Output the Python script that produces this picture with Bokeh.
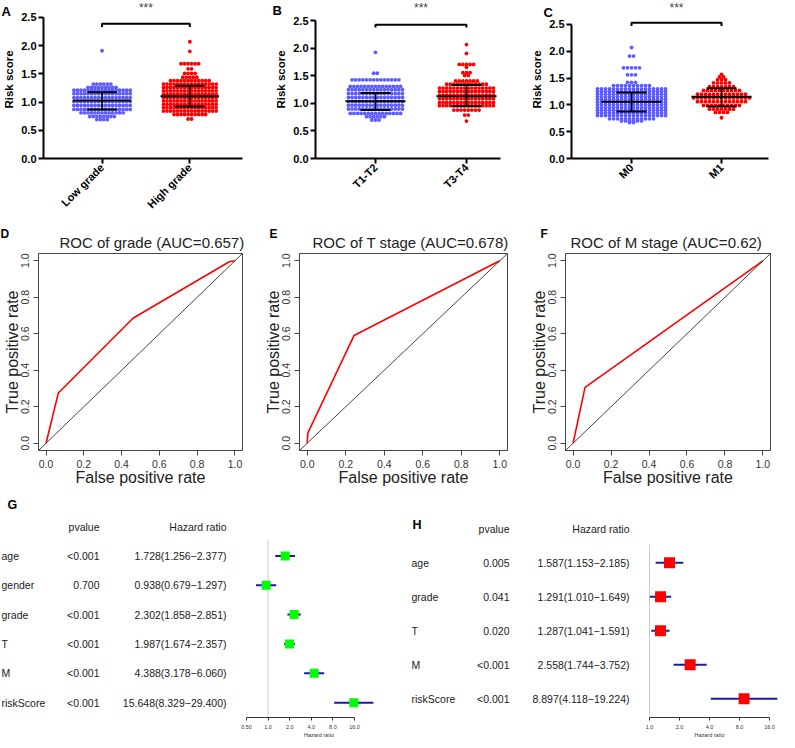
import math
from bokeh.plotting import figure
from bokeh.models import Range1d, FixedTicker, Label, PrintfTickFormatter, Slope
from bokeh.layouts import row, column
from bokeh.embed import file_html
from bokeh.resources import INLINE
from bokeh.core.properties import value

FONT = "Liberation Sans"
BLUE = "#5c5cff"
RED = "#ff0000"

# ---------------- Panels A-C: scatter rows (risk score level, number of dots) ----------------
A_cats = ["Low grade", "High grade"]
A_low_vals = [0.69, 0.745, 0.81, 0.87, 0.94, 1.01, 1.08, 1.15, 1.21, 1.26, 1.32, 1.91]
A_low_cnt = [4, 8, 13, 17, 17, 17, 17, 17, 17, 9, 6, 1]
A_high_vals = [0.70, 0.78, 0.84, 0.90, 0.96, 1.02, 1.08, 1.14, 1.20, 1.26, 1.32, 1.38, 1.44, 1.51, 1.59, 1.68, 1.90, 2.07]
A_high_cnt = [2, 10, 16, 16, 16, 16, 16, 16, 16, 16, 16, 12, 5, 4, 2, 6, 1, 1]
A_mid = [1.03, 1.105]
A_hi = [1.175, 1.29]
A_lo = [0.87, 0.92]

B_cats = ["T1-T2", "T3-T4"]
B_low_vals = [0.70, 0.76, 0.82, 0.90, 0.97, 1.04, 1.11, 1.18, 1.25, 1.31, 1.43, 1.55, 1.93]
B_low_cnt = [3, 6, 15, 16, 16, 16, 16, 16, 16, 15, 14, 2, 1]
B_high_vals = [0.68, 0.79, 0.88, 0.96, 1.02, 1.09, 1.15, 1.22, 1.28, 1.35, 1.41, 1.51, 1.56, 1.66, 1.71, 1.91, 2.07]
B_high_cnt = [1, 2, 8, 16, 16, 16, 16, 16, 16, 12, 7, 2, 3, 1, 5, 1, 1]
B_mid = [1.04, 1.13]
B_hi = [1.19, 1.335]
B_lo = [0.88, 0.95]

C_cats = ["M0", "M1"]
C_low_vals = [0.67, 0.70, 0.74, 0.80, 0.85, 0.90, 0.95, 1.00, 1.05, 1.10, 1.15, 1.20, 1.25, 1.30, 1.36, 1.42, 1.56, 1.69, 1.91, 2.07]
C_low_cnt = [2, 6, 12, 18, 18, 18, 18, 18, 18, 18, 18, 18, 18, 18, 10, 3, 3, 5, 2, 1]
C_high_vals = [0.76, 0.86, 0.92, 0.99, 1.06, 1.13, 1.20, 1.27, 1.34, 1.41, 1.47, 1.52, 1.57]
C_high_cnt = [1, 4, 7, 10, 13, 15, 13, 10, 7, 5, 3, 2, 1]
C_mid = [1.06, 1.15]
C_hi = [1.23, 1.31]
C_lo = [0.875, 0.97]

Y_TICKS = [0, 0.5, 1.0, 1.5, 2.0, 2.5]

# ---------------- Panels D-F: ROC curves ----------------
D_fpr = [0.0, 0.065, 0.46, 0.97, 1.0]
D_tpr = [0.0, 0.275, 0.685, 0.995, 1.0]
E_fpr = [0.0, 0.003, 0.243, 1.0]
E_tpr = [0.0, 0.055, 0.59, 1.0]
F_fpr = [0.0, 0.063, 1.0]
F_tpr = [0.0, 0.306, 1.0]
ROC_TICKS = [0.0, 0.2, 0.4, 0.6, 0.8, 1.0]

# ---------------- Panels G-H: forest plots ----------------
G_vars = ["age", "gender", "grade", "T", "M", "riskScore"]
G_p = ["<0.001", "0.700", "<0.001", "<0.001", "<0.001", "<0.001"]
G_hr = [1.728, 0.938, 2.302, 1.987, 4.388, 15.648]
G_lo = [1.256, 0.679, 1.858, 1.674, 3.178, 8.329]
G_up = [2.377, 1.297, 2.851, 2.357, 6.060, 29.400]
G_ticks = [0.5, 1, 2, 4, 8, 16]
G_tick_labels = ["0.50", "1.0", "2.0", "4.0", "8.0", "16.0"]

H_vars = ["age", "grade", "T", "M", "riskScore"]
H_p = ["0.005", "0.041", "0.020", "<0.001", "<0.001"]
H_hr = [1.587, 1.291, 1.287, 2.558, 8.897]
H_lo = [1.153, 1.010, 1.041, 1.744, 4.118]
H_up = [2.185, 1.649, 1.591, 3.752, 19.224]
H_ticks = [1, 2, 4, 8, 16]
H_tick_labels = ["1.0", "2.0", "4.0", "8.0", "16.0"]


def base_fig(W, H, xr, yr, left, right, top, bottom, **kw):
    p = figure(width=W, height=H, x_range=xr, y_range=yr, output_backend="svg",
               toolbar_location=None, min_border_left=left, min_border_right=right,
               min_border_top=top, min_border_bottom=bottom, **kw)
    p.xgrid.visible = False
    p.ygrid.visible = False
    p.background_fill_color = "white"
    p.border_fill_color = "white"
    return p


def letter(p, txt, cx, cy, size="13px"):
    # panel letter placed in canvas pixels; kept in the (empty) right border panel
    p.add_layout(Label(x=cx, y=cy, x_units="canvas", y_units="canvas", text=txt,
                       text_font=FONT, text_font_style="bold", text_font_size=size,
                       text_color="black", text_align="left", text_baseline="middle"), "right")


def swarm(W, H, left, right, top, bottom, x0, x1, y1, cats, groups, mid, hi, lo,
          bracket_y, drop, let, let_xy, spacing=3.6, dot=3.8):
    p = base_fig(W, H, Range1d(x0, x1), Range1d(0, y1), left, right, top, bottom)
    p.outline_line_color = None
    ppu = (W - left - right) / (x1 - x0)
    ppy = (H - top - bottom) / y1
    for gi, (vals, cnts, col) in enumerate(groups):
        xs, ys = [], []
        for v, n in zip(vals, cnts):
            for i in range(n):
                xs.append(gi + (i - (n - 1) / 2) * spacing / ppu)
                ys.append(v)
        p.scatter(xs, ys, size=dot, fill_color=col, line_color=None)
    gx = list(range(len(cats)))
    hw, cw = 30 / ppu, 15 / ppu
    p.segment(x0=[g - hw for g in gx], y0=mid, x1=[g + hw for g in gx], y1=mid,
              line_color="black", line_width=2)
    p.segment(x0=[g - cw for g in gx], y0=hi, x1=[g + cw for g in gx], y1=hi,
              line_color="black", line_width=2)
    p.segment(x0=[g - cw for g in gx], y0=lo, x1=[g + cw for g in gx], y1=lo,
              line_color="black", line_width=2)
    p.segment(x0=gx, y0=lo, x1=gx, y1=hi, line_color="black", line_width=1.5)
    p.line([gx[0], gx[0], gx[1], gx[1]], [bracket_y - drop, bracket_y, bracket_y, bracket_y - drop],
           line_color="black", line_width=2)
    p.text(x=[(gx[0] + gx[1]) / 2], y=[y1 - 0.5 / ppy], text=["***"], text_align="center",
           text_baseline="top", text_font=value(FONT), text_font_size="12px",
           text_color="#444444")
    p.xaxis.ticker = FixedTicker(ticks=gx)
    p.xaxis.major_label_overrides = {g: c for g, c in zip(gx, cats)}
    p.xaxis.major_label_orientation = math.pi / 4
    p.yaxis.ticker = FixedTicker(ticks=Y_TICKS)
    p.yaxis.formatter = PrintfTickFormatter(format="%.1f")
    p.yaxis.bounds = (0, 2.5)
    p.yaxis.axis_label = "Risk score"
    for ax in (p.xaxis[0], p.yaxis[0]):
        ax.axis_line_width = 2
        ax.axis_line_color = "black"
        ax.major_tick_line_width = 2
        ax.major_tick_line_color = "black"
        ax.major_tick_out = 5
        ax.major_tick_in = 0
        ax.minor_tick_line_color = None
        ax.major_label_text_font = FONT
        ax.major_label_text_font_style = "bold"
        ax.major_label_text_font_size = "11px"
        ax.major_label_text_color = "black"
        ax.major_label_standoff = 2
        ax.axis_label_text_font = FONT
        ax.axis_label_text_font_style = "bold"
        ax.axis_label_text_font_size = "11.5px"
        ax.axis_label_text_color = "black"
        ax.axis_label_standoff = 3
    letter(p, let, let_xy[0], let_xy[1])
    return p


RH1 = 220
pA = swarm(260, RH1, 38, 18, 0, 62, -0.667, 1.6, 2.801, A_cats,
           [(A_low_vals, A_low_cnt, BLUE), (A_high_vals, A_high_cnt, RED)],
           A_mid, A_hi, A_lo, 2.39, 0.06, "A", (1, 11))
pB = swarm(265, RH1, 55, 25, 0, 58, -0.659, 1.374, 2.872, B_cats,
           [(B_low_vals, B_low_cnt, BLUE), (B_high_vals, B_high_cnt, RED)],
           B_mid, B_hi, B_lo, 2.43, 0.05, "B", (12, 10))
pC = swarm(254, RH1, 46, 11, 0, 55, -0.667, 1.522, 2.946, C_cats,
           [(C_low_vals, C_low_cnt, BLUE), (C_high_vals, C_high_cnt, RED)],
           C_mid, C_hi, C_lo, 2.53, 0.06, "C", (18, 12), spacing=4.0, dot=3.8)

RH2, TOP2, BOT2 = 268, 33, 37


def roc(W, left, right, title, title_x, fpr, tpr, let, let_x):
    p = base_fig(W, RH2, Range1d(-0.04, 1.04), Range1d(-0.04, 1.04), left, right, TOP2, BOT2,
                 title=title)
    p.title.text_font = FONT
    p.title.text_font_size = "15px"
    p.title.text_font_style = "normal"
    p.title.align = "left"
    p.title.offset = title_x
    p.title.text_color = "#222222"
    p.title.standoff = 5
    p.outline_line_color = "#444444"
    p.outline_line_width = 1
    p.add_layout(Slope(gradient=1, y_intercept=0, line_color="#444444", line_width=1))
    p.line(fpr, tpr, line_color="red", line_width=1.6)
    p.xaxis.axis_label = "False positive rate"
    p.yaxis.axis_label = "True positive rate"
    p.yaxis.major_label_orientation = "vertical"
    for ax in (p.xaxis[0], p.yaxis[0]):
        ax.ticker = FixedTicker(ticks=ROC_TICKS)
        ax.formatter = PrintfTickFormatter(format="%.1f")
        ax.axis_line_color = None
        ax.major_tick_line_color = "#444444"
        ax.major_tick_out = 5
        ax.major_tick_in = 0
        ax.minor_tick_line_color = None
        ax.major_label_text_font = FONT
        ax.major_label_text_font_size = "10.5px"
        ax.major_label_text_color = "#333333"
        ax.major_label_standoff = 4
        ax.axis_label_text_font = FONT
        ax.axis_label_text_font_size = "16px"
        ax.axis_label_text_font_style = "normal"
        ax.axis_label_text_color = "#222222"
        ax.axis_label_standoff = -2
    letter(p, let, let_x, 13, size="12px")
    return p


pD = roc(256, 34, 14, "ROC of grade (AUC=0.657)", 21, D_fpr, D_tpr, "D", 0)
pE = roc(264, 43, 13, "ROC of T stage (AUC=0.678)", 13, E_fpr, E_tpr, "E", 13)
pF = roc(259, 45, 9, "ROC of M stage (AUC=0.62)", 5, F_fpr, F_tpr, "F", 20)

RH3, FB3 = 252, 21


def forest(names, pv, hr, lo, up, tw, fw, ppr, y1_local, col_name, col_p, col_hr,
           header_y, let, let_xy, anchor_val, anchor_local, ppd, ticks, tick_labels,
           box_size, box_color):
    fh = RH3 - FB3
    n = len(names)
    ys = list(range(n, 0, -1))
    yr = Range1d(1 - (fh - y1_local) / ppr, 1 + y1_local / ppr)
    t = base_fig(tw, RH3, Range1d(0, tw), yr, 0, 0, 0, FB3)
    t.outline_line_color = None
    t.axis.visible = False
    hr_txt = ["%.3f(%.3f\u2212%.3f)" % (a, b, c) for a, b, c in zip(hr, lo, up)]
    common = dict(text_font=value(FONT), text_font_size="10.5px", text_color="#1a1a1a",
                  text_baseline="middle")
    t.text(x=[col_name] * n, y=ys, text=names, text_align="left", **common)
    t.text(x=[col_p] * n, y=ys, text=pv, text_align="right", **common)
    t.text(x=[col_hr] * n, y=ys, text=hr_txt, text_align="right", **common)
    t.text(x=[col_p, col_hr], y=[header_y, header_y], text=["pvalue", "Hazard ratio"],
           text_align="right", **common)
    t.text(x=[let_xy[0]], y=[1 + (y1_local - let_xy[1]) / ppr], text=[let], text_align="left",
           text_baseline="middle", text_font=value(FONT), text_font_style="bold",
           text_font_size="12.5px", text_color="black")

    xr = Range1d(anchor_val * 2 ** (-anchor_local / ppd), anchor_val * 2 ** ((fw - anchor_local) / ppd))
    f = base_fig(fw, RH3, xr, yr, 0, 0, 0, FB3, x_axis_type="log")
    f.outline_line_color = None
    f.yaxis.visible = False
    f.segment(x0=[1], y0=[yr.start], x1=[1], y1=[n + 0.54], line_color="#cccccc", line_width=1)
    f.segment(x0=lo, y0=ys, x1=up, y1=ys, line_color="#1c1ca0", line_width=2)
    f.scatter(hr, ys, marker="square", size=box_size, fill_color=box_color, line_color=None)
    ax = f.xaxis[0]
    ax.ticker = FixedTicker(ticks=ticks)
    ax.major_label_overrides = {tk: lb for tk, lb in zip(ticks, tick_labels)}
    ax.bounds = (ticks[0], ticks[-1])
    ax.axis_line_color = "#333333"
    ax.major_tick_line_color = "#333333"
    ax.major_tick_out = 3
    ax.major_tick_in = 0
    ax.minor_tick_line_color = None
    ax.major_label_text_font = FONT
    ax.major_label_text_font_size = "5.5px"
    ax.major_label_text_color = "#333333"
    ax.major_label_standoff = 4
    ax.axis_label = "Hazard ratio"
    ax.axis_label_text_font = FONT
    ax.axis_label_text_font_size = "5.5px"
    ax.axis_label_text_font_style = "normal"
    ax.axis_label_text_color = "#333333"
    ax.axis_label_standoff = 0
    return t, f


gT, gF = forest(G_vars, G_p, G_hr, G_lo, G_up, 232, 173, 29.6, 216, 1, 99, 226, 7,
                "G", (7, 17), 0.5, 14, 21.6, G_ticks, G_tick_labels, 9, "#00ff00")
hT, hF = forest(H_vars, H_p, H_hr, H_lo, H_up, 234, 140, 34.25, 212, 6, 104, 224, 6,
                "H", (7, 37), 1.0, 10, 30.0, H_ticks, H_tick_labels, 11, "#ff0000")

layout = column(row(pA, pB, pC), row(pD, pE, pF), row(gT, gF, hT, hF))

with open("out.html", "w") as fh:
    fh.write(file_html(layout, INLINE))
